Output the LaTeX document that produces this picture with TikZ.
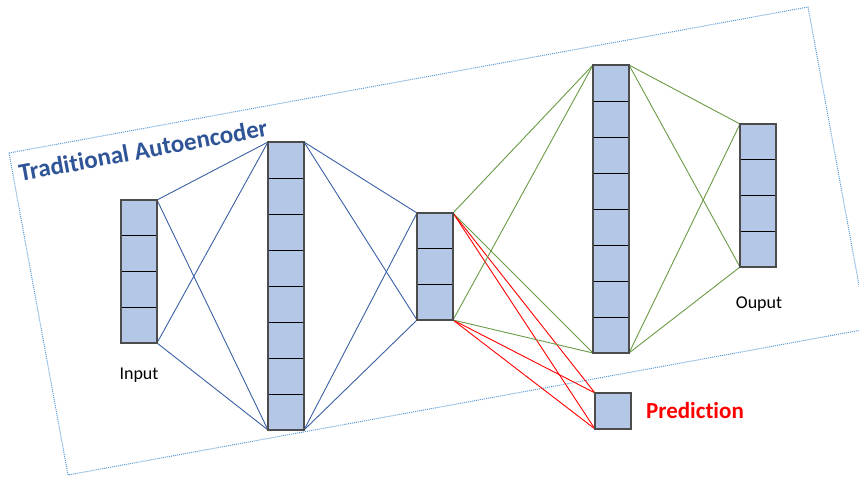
\documentclass[tikz,border=0pt]{standalone}
\usepackage{fontspec}
\setmainfont{Carlito}[Ligatures={NoCommon,NoRequired,NoContextual}]
\usetikzlibrary{calc}
\definecolor{cellblue}{HTML}{B4C7E7}
\definecolor{linkblue}{HTML}{3A5FA5}
\definecolor{linkgreen}{HTML}{6A9A45}
\definecolor{titleblue}{HTML}{2F5597}
\definecolor{framedot}{HTML}{5B9BD5}
\begin{document}
\begin{tikzpicture}[x=1pt,y=-1pt,
  cellcol/.style={draw=black!70, line width=1.2pt, fill=cellblue, minimum width=36pt, inner sep=0pt, outer sep=0pt},
  sepline/.style={draw=black, line width=1pt},
  bluelink/.style={draw=linkblue, line width=0.9pt},
  greenlink/.style={draw=linkgreen, line width=0.9pt},
  redlink/.style={draw=red, line width=0.9pt},
  framebox/.style={draw=framedot, line width=1pt, densely dotted},
  lbl/.style={font=\fontsize{18}{21}\selectfont, text=black, inner sep=0pt}
]
\useasboundingbox (0,0) rectangle (859,477);
% rotated dotted frame
\coordinate (f1) at (9,153);
\coordinate (f2) at (808,7);
\coordinate (f3) at (867,329);
\coordinate (f4) at (68,475);
\draw[framebox] (f1) -- (f2) -- (f3) -- (f4) -- cycle;

% title
\node[rotate=10.4, font=\bfseries\fontsize{25}{29}\selectfont, text=titleblue, inner sep=0pt] (title) at (143,150) {Traditional Autoencoder};

% columns
\node[cellcol, minimum height=143pt] (in) at (139,271.5) {};
\node[cellcol, minimum height=288pt] (h1) at (286,286) {};
\node[cellcol, minimum height=107pt] (c3) at (435,266.5) {};
\node[cellcol, minimum height=288pt] (h2) at (611,209) {};
\node[cellcol, minimum height=143pt] (out) at (758,195.5) {};
\node[cellcol, minimum height=36pt] (pred) at (613,411) {};

% connectors
\foreach \a in {north east, south east}{
  \foreach \b in {north west, south west}{
    \draw[bluelink] (in.\a) -- (h1.\b);
    \draw[bluelink] (h1.\a) -- (c3.\b);
    \draw[greenlink] (c3.\a) -- (h2.\b);
    \draw[greenlink] (h2.\a) -- (out.\b);
    \draw[redlink] (c3.\a) -- (pred.\b);
  }
}

% cell separators
\foreach \n/\k in {in/4, h1/8, c3/3, h2/8, out/4}{
  \pgfmathtruncatemacro\km{\k-1}
  \foreach \i in {1,...,\km}{
    \draw[sepline] ($(\n.north west)!\i/\k!(\n.south west)$) -- ($(\n.north east)!\i/\k!(\n.south east)$);
  }
}
% redraw outlines on top
\foreach \n in {in, h1, c3, h2, out, pred}{
  \draw[draw=black!70, line width=1.2pt] (\n.north west) rectangle (\n.south east);
}

% labels
\node[lbl] (inlbl) at (139,375) {Input};
\node[lbl] (outlbl) at (759,304) {Ouput};
\node[font=\bfseries\fontsize{23}{26}\selectfont, text=red, inner sep=0pt] (predlbl) at (695,411) {Prediction};
\end{tikzpicture}
\end{document}
